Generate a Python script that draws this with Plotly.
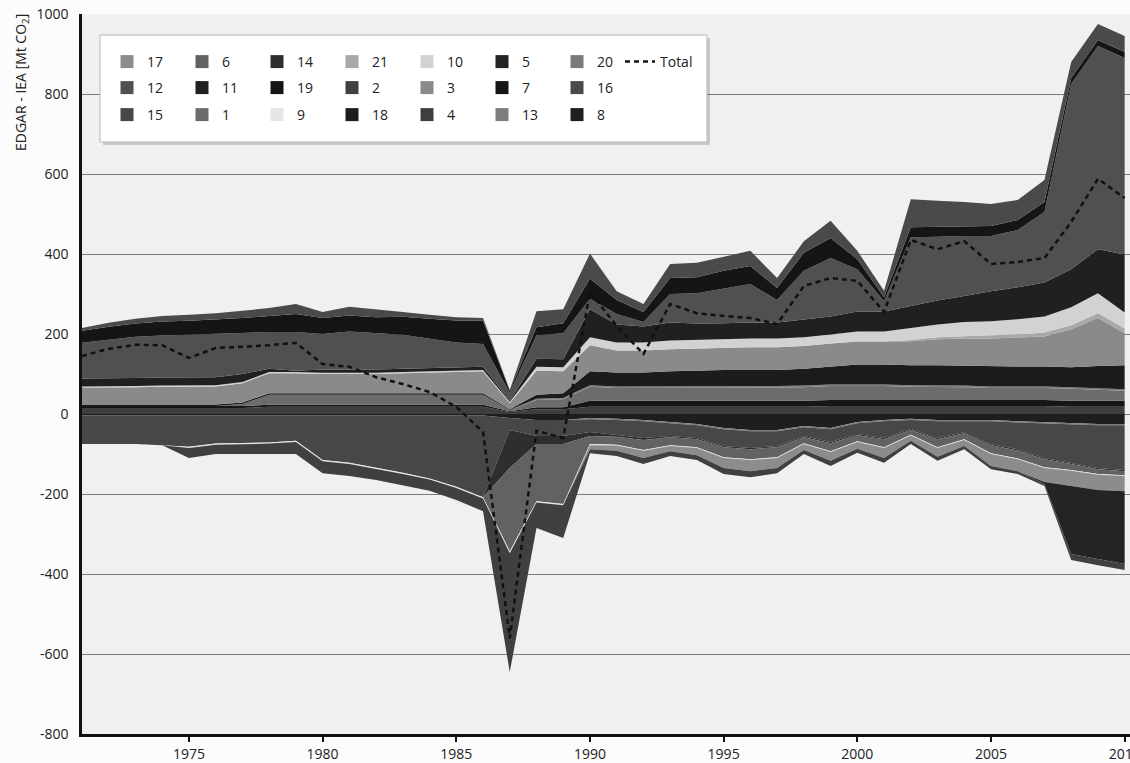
import plotly.graph_objects as go

years = list(range(1971, 2011))

# ---- positive contributions (Mt CO2), 1971-2010 ----
s4 = [15, 15, 15, 15, 15, 15, 15, 18, 18, 18, 18, 18, 18, 18, 18, 18, 5, 12, 12, 18,
      18, 18, 18, 18, 18, 18, 18, 18, 20, 20, 20, 20, 20, 20, 20, 20, 20, 18, 18, 18]
s7 = [5, 5, 5, 5, 5, 5, 5, 5, 5, 5, 5, 5, 5, 5, 5, 5, 2, 5, 5, 15,
      15, 15, 15, 15, 15, 15, 15, 15, 15, 15, 15, 15, 15, 15, 15, 15, 15, 15, 15, 15]
s1 = [0, 0, 0, 0, 0, 0, 5, 25, 25, 25, 25, 25, 25, 25, 25, 25, 3, 18, 20, 35,
      32, 32, 32, 32, 33, 33, 33, 34, 35, 35, 35, 33, 33, 32, 30, 30, 30, 30, 28, 25]
s13 = [0, 0, 0, 0, 0, 0, 0, 0, 0, 0, 0, 0, 0, 0, 0, 0, 0, 3, 3, 4,
       4, 4, 4, 4, 4, 4, 4, 4, 4, 4, 4, 4, 4, 4, 4, 4, 4, 4, 4, 4]
s18 = [4, 4, 4, 4, 4, 4, 4, 4, 4, 4, 4, 4, 4, 4, 4, 4, 2, 10, 12, 35,
       35, 35, 38, 40, 40, 40, 40, 42, 45, 50, 50, 50, 50, 50, 50, 50, 50, 50, 55, 60]
s3 = [42, 42, 43, 44, 45, 45, 48, 50, 50, 48, 48, 48, 50, 52, 53, 55, 15, 60, 55, 65,
      55, 55, 55, 55, 55, 57, 57, 57, 57, 57, 57, 60, 65, 68, 70, 72, 75, 95, 120, 80]
s21 = [0, 0, 0, 0, 0, 0, 0, 0, 0, 0, 0, 0, 0, 0, 0, 0, 0, 0, 0, 0,
       0, 0, 0, 0, 0, 0, 0, 0, 0, 0, 0, 3, 5, 6, 8, 8, 10, 10, 12, 12]
s10 = [3, 3, 3, 3, 3, 3, 3, 3, 3, 3, 3, 3, 3, 3, 3, 3, 3, 10, 10, 20,
       20, 20, 22, 22, 22, 22, 22, 22, 23, 25, 25, 30, 32, 35, 35, 38, 40, 45, 50, 40]
s11 = [20, 20, 20, 20, 20, 20, 20, 8, 3, 8, 8, 8, 8, 8, 8, 8, 3, 20, 20, 70,
       45, 40, 45, 40, 40, 40, 40, 45, 45, 50, 50, 55, 60, 65, 75, 80, 85, 95, 110, 145]
s12 = [89, 97, 103, 105, 106, 108, 102, 92, 97, 89, 95, 91, 85, 73, 63, 57, 20, 59, 65, 26,
       26, 11, 71, 76, 86, 96, 56, 121, 146, 106, 26, 172, 159, 150, 138, 143, 176, 463, 508, 491]
s19 = [30, 32, 33, 35, 35, 36, 38, 40, 45, 40, 40, 40, 45, 50, 55, 58, 5, 20, 25, 50,
       35, 25, 40, 40, 45, 45, 30, 45, 50, 25, 10, 25, 25, 25, 25, 25, 25, 15, 15, 15]
s16 = [7, 10, 12, 14, 15, 16, 18, 20, 25, 15, 22, 20, 12, 10, 8, 7, 2, 40, 35, 63,
       22, 20, 35, 36, 35, 38, 25, 29, 43, 21, 16, 70, 65, 60, 55, 50, 55, 40, 40, 40]

# ---- negative contributions (Mt CO2), 1971-2010 ----
s8 = [-4, -4, -4, -4, -4, -4, -4, -4, -4, -4, -4, -4, -4, -4, -4, -4, -10, -15, -15, -10,
      -12, -15, -20, -25, -35, -40, -40, -30, -35, -20, -15, -12, -15, -15, -15, -18, -20, -22, -25, -25]
s20 = [0, 0, 0, 0, 0, 0, 0, 0, 0, 0, 0, 0, 0, 0, 0, 0, 0, 0, 0, -3,
       -3, -3, -3, -3, -3, -3, -3, -3, -3, -3, -3, -3, -3, -3, -3, -3, -3, -3, -3, -3]
s15 = [-71, -71, -71, -74, -78, -70, -68, -67, -63, -111, -118, -130, -143, -157, -178, -204, -30, -40, -40, -32,
       -37, -42, -32, -32, -42, -42, -37, -22, -32, -27, -42, -22, -42, -27, -57, -67, -87, -97, -107, -112]
s14 = [0, 0, 0, 0, 0, 0, 0, 0, 0, 0, 0, 0, 0, 0, 0, 0, -95, -20, -20, -10,
       -5, -5, -3, -3, -3, -3, -3, -3, -3, -3, -3, -3, -3, -3, -3, -3, -3, -3, -3, -3]
s6 = [0, 0, 0, 0, 0, 0, 0, 0, 0, 0, 0, 0, 0, 0, 0, 0, -208, -143, -150, -20,
      -20, -25, -20, -20, -25, -25, -25, -15, -20, -15, -20, -12, -20, -15, -20, -20, -20, -15, -12, -10]
s9 = [0, 0, 0, 0, -3, -3, -3, -3, -3, -3, -3, -3, -3, -3, -3, -3, -5, -3, -3, -3,
      -2, -2, -2, -2, -2, -2, -2, -2, -2, -2, -2, -2, -2, -2, -2, -2, -2, -2, -2, -2]
s17 = [0, 0, 0, 0, 0, 0, 0, 0, 0, 0, 0, 0, 0, 0, 0, 0, 0, 0, 0, -10,
       -13, -18, -13, -18, -25, -28, -25, -15, -22, -17, -25, -13, -22, -15, -30, -30, -35, -38, -38, -38]
s5 = [0, 0, 0, 0, 0, 0, 0, 0, 0, 0, 0, 0, 0, 0, 0, 0, 0, 0, 0, 0,
      0, 0, 0, 0, 0, 0, 0, 0, 0, 0, 0, 0, 0, 0, 0, 0, -5, -170, -173, -182]
s2 = [0, 0, 0, 0, -25, -23, -25, -26, -30, -30, -30, -28, -28, -28, -30, -32, -297, -64, -82, -10,
      -13, -15, -12, -12, -15, -15, -13, -10, -13, -10, -12, -8, -10, -8, -8, -7, -5, -15, -15, -15]

# ---- net difference ----
total = [145, 163, 173, 172, 140, 165, 168, 172, 178, 125, 118, 92, 75, 55, 18, -45, -560, -42, -60, 305,
         220, 150, 275, 252, 245, 240, 225, 320, 340, 333, 255, 435, 412, 432, 375, 380, 390, 480, 588, 540]

# axis ticks
x_ticks = [1975, 1980, 1985, 1990, 1995, 2000, 2005, 2010]
y_ticks = [-800, -600, -400, -200, 0, 200, 400, 600, 800, 1000]
y_tick_text = ["-800", "-600", "-400", "-200", "0", "200", "400", "600", "800", "1000"]

colors = {
    "1": "#6c6c6c", "2": "#404040", "3": "#8a8a8a", "4": "#3e3e3e", "5": "#242424",
    "6": "#626262", "7": "#161616", "8": "#1e1e1e", "9": "#e6e6e6", "10": "#d2d2d2",
    "11": "#202020", "12": "#505050", "13": "#7d7d7d", "14": "#2e2e2e", "15": "#474747",
    "16": "#4a4a4a", "17": "#8c8c8c", "18": "#1c1c1c", "19": "#151515", "20": "#7a7a7a",
    "21": "#a8a8a8",
}

positive_stack = [("4", s4), ("7", s7), ("1", s1), ("13", s13), ("18", s18), ("3", s3),
                  ("21", s21), ("10", s10), ("11", s11), ("12", s12), ("19", s19), ("16", s16)]
negative_stack = [("8", s8), ("20", s20), ("15", s15), ("14", s14), ("6", s6), ("9", s9),
                  ("17", s17), ("5", s5), ("2", s2)]

legend_rows = [
    ["17", "6", "14", "21", "10", "5", "20"],
    ["12", "11", "19", "2", "3", "7", "16"],
    ["15", "1", "9", "18", "4", "13", "8"],
]

FONT = "Open Sans"
fig = go.Figure()

for group, stack in (("pos", positive_stack), ("neg", negative_stack)):
    for name, vals in stack:
        fig.add_trace(go.Scatter(
            x=years, y=vals, name=name, mode="lines", stackgroup=group,
            line=dict(width=0, color=colors[name]), fillcolor=colors[name],
            showlegend=False, hoverinfo="skip",
        ))

legend_ids = ["legend", "legend2", "legend3"]
for lid, row in zip(legend_ids, legend_rows):
    for name in row:
        extra = {}
        if lid == "legend" and name == row[-1]:
            # tighter slot so the Total entry sits closer
            extra["legendwidth"] = 18
        fig.add_trace(go.Scatter(
            x=[None], y=[None], mode="markers", name=name, legend=lid,
            marker=dict(symbol="square", size=13, color=colors[name], line=dict(width=0)),
            showlegend=True, hoverinfo="skip", **extra,
        ))

fig.add_trace(go.Scatter(
    x=years, y=total, name="Total", mode="lines", legend="legend",
    line=dict(color="#111111", width=2.5, dash="5px,4px"),
    hoverinfo="skip",
))

# plot area geometry in pixels
L, T, W, H = 82, 14, 1048, 720


def px_x(px):
    return (px - L) / W


def px_y(py):
    return 1 - (py - T) / H


legend_style = dict(
    orientation="h", xanchor="left", yanchor="middle", traceorder="normal",
    bgcolor="rgba(0,0,0,0)", borderwidth=0,
    font=dict(family=FONT, size=14, color="#222222"),
    entrywidth=30, entrywidthmode="pixels", itemsizing="trace",
    tracegroupgap=0,
)
row_centres = [62, 88, 115]
legends = {}
for lid, yc in zip(legend_ids, row_centres):
    legends[lid] = dict(legend_style, x=px_x(107), y=px_y(yc))

shapes = [
    dict(type="rect", xref="paper", yref="paper", layer="above",
         x0=px_x(103), x1=px_x(710), y0=px_y(145), y1=px_y(38),
         fillcolor="rgba(0,0,0,0.16)", line=dict(width=0)),
    dict(type="rect", xref="paper", yref="paper", layer="above",
         x0=px_x(100), x1=px_x(707), y0=px_y(142), y1=px_y(35),
         fillcolor="#ffffff", line=dict(color="#b8b8b8", width=1)),
]

fig.update_layout(
    width=1130, height=763,
    margin=dict(l=L, r=1130 - L - W, t=T, b=763 - T - H, autoexpand=False),
    paper_bgcolor="#fcfcfc", plot_bgcolor="#eef0f2",
    font=dict(family=FONT, size=14, color="#222222"),
    shapes=shapes,
    annotations=[dict(
        text="EDGAR - IEA [Mt CO<sub>2</sub>]", textangle=-90,
        xref="paper", yref="paper", x=px_x(21), y=px_y(83),
        xanchor="center", yanchor="middle", showarrow=False,
        font=dict(family=FONT, size=14, color="#222222"),
    )],
    **legends,
)

fig.update_xaxes(
    range=[1971, 2010.2], tickvals=x_ticks, ticklabeloverflow="allow", automargin=False,
    ticks="outside", ticklen=5, tickwidth=2, tickcolor="#111111",
    showline=True, linecolor="#111111", linewidth=2.5,
    showgrid=False, zeroline=False, tickfont=dict(size=14),
)
fig.update_yaxes(
    range=[-800, 1000], tickvals=y_ticks, ticktext=y_tick_text, automargin=False,
    showgrid=True, gridcolor="#7c7c7c", gridwidth=1,
    showline=True, linecolor="#111111", linewidth=2.5,
    zeroline=False, ticks="", ticklabelstandoff=8, tickfont=dict(size=14),
)

fig.write_html("out.html")
